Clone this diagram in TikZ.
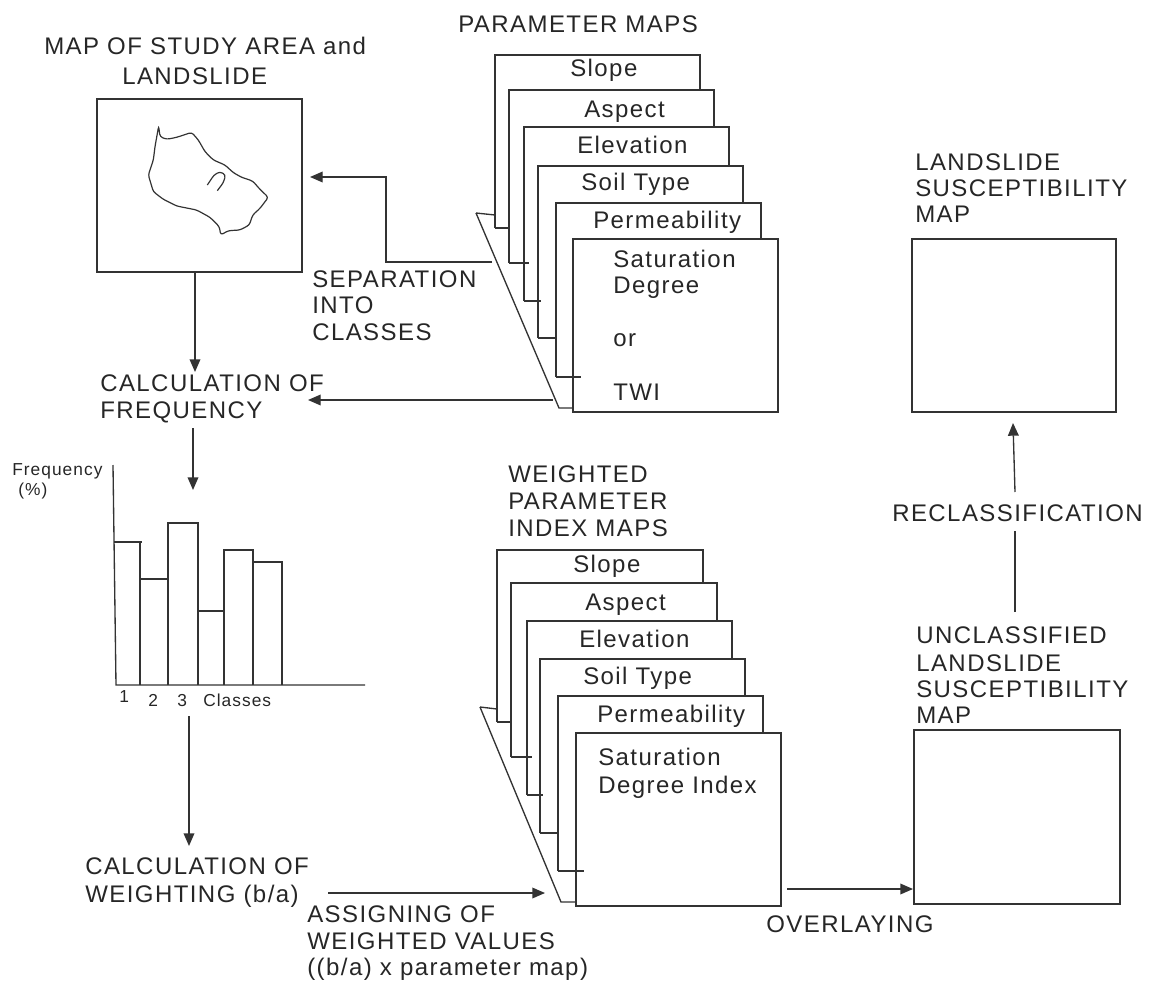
\documentclass[tikz,border=0pt]{standalone}
\usepackage{fontspec}
\setmainfont[LetterSpace=6]{Liberation Sans}
\usetikzlibrary{arrows.meta}
\tikzset{
  x=0.75pt,y=-0.75pt,
  ln/.style={draw=black!80,line width=1pt},
  arr/.style={ln,-{Triangle[length=9.5pt,width=8pt]}},
  lab/.style={anchor=base west,inner sep=0pt,font=\fontsize{18}{20}\selectfont,text=black!85},
  small/.style={anchor=base west,inner sep=0pt,font=\fontsize{13}{15}\selectfont,text=black!85},
}
\begin{document}
\begin{tikzpicture}
\useasboundingbox (0,0) rectangle (1150,985);
% top stack
\draw[ln] (476,213) -- (495,215);
\draw[ln] (476,213) -- (559,408) -- (573,408);
\draw[ln] (495,228) -- (495,55) -- (700,55) -- (700,90);
\draw[ln] (495,228) -- (510,228);
\draw[ln] (509,263) -- (509,90) -- (714,90) -- (714,127);
\draw[ln] (509,263) -- (529,263);
\draw[ln] (524,301) -- (524,127) -- (729,127) -- (729,166);
\draw[ln] (524,301) -- (541,301);
\draw[ln] (538,338) -- (538,166) -- (743,166) -- (743,203);
\draw[ln] (538,338) -- (557,338);
\draw[ln] (556,377) -- (556,203) -- (761,203) -- (761,239);
\draw[ln] (556,377) -- (581,377);
\draw[ln] (573,239) rectangle (778,412);
% bottom stack
\draw[ln] (480,707) -- (497,709);
\draw[ln] (480,707) -- (561,902) -- (576,902);
\draw[ln] (497,722) -- (497,550) -- (703,550) -- (703,583);
\draw[ln] (497,722) -- (512,722);
\draw[ln] (511,757) -- (511,583) -- (717,583) -- (717,621);
\draw[ln] (511,757) -- (532,757);
\draw[ln] (527,795) -- (527,621) -- (732,621) -- (732,659);
\draw[ln] (527,795) -- (543,795);
\draw[ln] (540,833) -- (540,659) -- (745,659) -- (745,696);
\draw[ln] (540,833) -- (559,833);
\draw[ln] (558,871) -- (558,696) -- (763,696) -- (763,733);
\draw[ln] (558,871) -- (584,871);
\draw[ln] (576,733) rectangle (781,906);
% map box
\draw[ln] (97,99) rectangle (302,272);
\begin{scope}[shift={(60,80)},x=0.25pt,y=-0.25pt]
\draw[ln,line width=.9pt,rounded corners=2pt] (296,138) -- (300,170) -- (320,178) -- (350,172) -- (395,157) -- (415,180) -- (435,215) -- (460,240) -- (495,255) -- (520,278) -- (545,292) -- (578,303) -- (600,328) -- (625,352) -- (600,385) -- (578,405) -- (568,435) -- (540,450) -- (505,452) -- (482,465) -- (478,440) -- (450,412) -- (410,390) -- (350,378) -- (310,358) -- (280,335) -- (265,285) -- (280,240) -- (285,200) -- cycle;
\draw[ln,line width=.9pt,rounded corners=2pt] (442,315) -- (462,285) -- (480,275) -- (497,285) -- (490,308) -- (472,332);
\end{scope}
% result boxes
\draw[ln] (912,239) rectangle (1116,412);
\draw[ln] (914,730) rectangle (1120,904);
% chart
\draw[ln] (113,465) -- (116,685) -- (365,685);
\draw[ln] (114,542) -- (142,542);
\draw[ln] (140,542) -- (140,685);
\draw[ln] (140,579) -- (168,579);
\draw[ln] (168,685) -- (168,523) -- (198,523) -- (198,685);
\draw[ln] (198,611) -- (224,611);
\draw[ln] (224,685) -- (224,550) -- (253,550) -- (253,685);
\draw[ln] (253,562) -- (282,562) -- (282,685);
% connectors
\coordinate (c1a) at (195,272); \coordinate (c1b) at (195,372);
\draw[arr] (c1a) -- (c1b);
\coordinate (c2a) at (492,262); \coordinate (c2m) at (386,262); \coordinate (c2n) at (386,177); \coordinate (c2b) at (310,177);
\draw[arr] (c2a) -- (c2m) -- (c2n) -- (c2b);
\coordinate (c3a) at (553,400); \coordinate (c3b) at (308,400);
\draw[arr] (c3a) -- (c3b);
\coordinate (c4a) at (193,428); \coordinate (c4b) at (193,490);
\draw[arr] (c4a) -- (c4b);
\coordinate (c5a) at (189,716); \coordinate (c5b) at (189,846);
\draw[arr] (c5a) -- (c5b);
\coordinate (c6a) at (328,893); \coordinate (c6b) at (545,893);
\draw[arr] (c6a) -- (c6b);
\coordinate (c7a) at (787,889); \coordinate (c7b) at (913,889);
\draw[arr] (c7a) -- (c7b);
\coordinate (c8a) at (1015,612); \coordinate (c8b) at (1015,531);
\draw[ln] (c8a) -- (c8b);
\coordinate (c9a) at (1015,492); \coordinate (c9b) at (1013,423);
\draw[arr] (c9a) -- (c9b);
% labels
\node[lab] (tmap) at (44,55) {MAP OF STUDY AREA and};
\node[lab] (tmap2) at (122,84) {LANDSLIDE};
\node[lab] (tpar) at (458,32) {PARAMETER MAPS};
\node[lab] (a1) at (570,76) {Slope};
\node[lab] (a2) at (584,117) {Aspect};
\node[lab] (a3) at (577,153) {Elevation};
\node[lab] (a4) at (581,190) {Soil Type};
\node[lab] (a5) at (593,228) {Permeability};
\node[lab] (a6) at (613,267) {Saturation};
\node[lab] (a7) at (613,293) {Degree};
\node[lab] (a8) at (613,346) {or};
\node[lab] (a9) at (613,400) {TWI};
\node[lab] (b1) at (573,572) {Slope};
\node[lab] (b2) at (585,610) {Aspect};
\node[lab] (b3) at (579,647) {Elevation};
\node[lab] (b4) at (583,684) {Soil Type};
\node[lab] (b5) at (597,722) {Permeability};
\node[lab] (b6) at (598,765) {Saturation};
\node[lab] (b7) at (598,793) {Degree Index};
\node[lab] (s1) at (312,287) {SEPARATION};
\node[lab] (s2) at (312,313) {INTO};
\node[lab] (s3) at (312,340) {CLASSES};
\node[lab] (f1) at (100,391) {CALCULATION OF};
\node[lab] (f2) at (100,418) {FREQUENCY};
\node[small] (y1) at (12,475) {Frequency};
\node[small] (y2) at (18,495) {(\%)};
\node[small] (x1) at (119,702) {1};
\node[small] (x2) at (148,706) {2};
\node[small] (x3) at (177,706) {3};
\node[small] (x4) at (203,706) {Classes};
\node[lab] (w1) at (85,874) {CALCULATION OF};
\node[lab] (w2) at (85,902) {WEIGHTING (b/a)};
\node[lab] (g1) at (307,922) {ASSIGNING OF};
\node[lab] (g2) at (307,949) {WEIGHTED VALUES};
\node[lab] (g3) at (307,975) {((b/a) x parameter map)};
\node[lab] (o1) at (766,932) {OVERLAYING};
\node[lab] (i1) at (508,482) {WEIGHTED};
\node[lab] (i2) at (508,509) {PARAMETER};
\node[lab] (i3) at (508,536) {INDEX MAPS};
\node[lab] (l1) at (915,170) {LANDSLIDE};
\node[lab] (l2) at (915,196) {SUSCEPTIBILITY};
\node[lab] (l3) at (915,222) {MAP};
\node[lab] (r1) at (892,521) {RECLASSIFICATION};
\node[lab] (u1) at (916,643) {UNCLASSIFIED};
\node[lab] (u2) at (916,671) {LANDSLIDE};
\node[lab] (u3) at (916,697) {SUSCEPTIBILITY};
\node[lab] (u4) at (916,723) {MAP};
\end{tikzpicture}
\end{document}
